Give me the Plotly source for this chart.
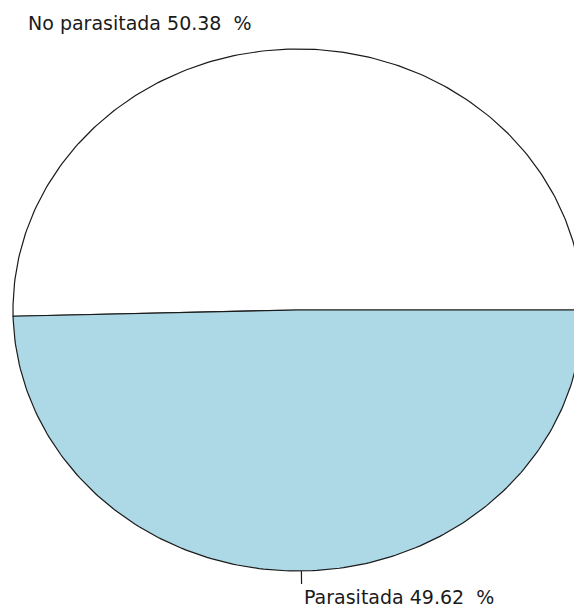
import numpy as np
import plotly.graph_objects as go

# datos del gráfico de torta
categorias = ["No parasitada", "Parasitada"]
porcentajes = [50.38, 49.62]
colores = ["white", "lightblue"]

# geometría (como pie() de R: antihorario desde las 3 en punto)
fig = go.Figure()
fracciones = np.array(porcentajes) / sum(porcentajes)
limites = np.concatenate([[0], np.cumsum(fracciones)]) * 2 * np.pi

for i, cat in enumerate(categorias):
    t = np.linspace(limites[i], limites[i + 1], 200)
    xs = np.concatenate([[0], np.cos(t), [0]])
    ys = np.concatenate([[0], np.sin(t), [0]])
    fig.add_trace(go.Scatter(
        x=xs, y=ys, mode="lines", fill="toself",
        fillcolor=colores[i],
        line=dict(color="#1a1a1a", width=1.2),
        hoverinfo="skip", showlegend=False,
    ))

# etiquetas (en la imagen solo se ve la marca corta de abajo)
for i, cat in enumerate(categorias):
    medio = (limites[i] + limites[i + 1]) / 2
    cx, cy = np.cos(medio), np.sin(medio)
    if cy < 0:
        fig.add_trace(go.Scatter(
            x=[cx, 1.05 * cx], y=[cy, 1.05 * cy], mode="lines",
            line=dict(color="#1a1a1a", width=1.2),
            hoverinfo="skip", showlegend=False,
        ))
    fig.add_annotation(
        x=1.1 * cx, y=1.1 * cy,
        text=f"{cat} {porcentajes[i]:.2f}\u00a0\u00a0%",
        showarrow=False,
        xanchor="right" if cx < 0 else "left",
        xshift=-40 if cx < 0 else 0,
        yanchor="middle",
        font=dict(family="DejaVu Sans, sans-serif", size=19, color="#1a1a1a"),
    )

# rangos de ejes para ubicar la elipse como en la imagen
# (la página tiene 8 px de margen en el body)
rx, ry = 285, 261
cxp, cyp = 290, 302
W, H = 574, 603
fig.update_layout(
    width=W, height=H,
    margin=dict(l=0, r=0, t=0, b=0),
    paper_bgcolor="white", plot_bgcolor="white",
    xaxis=dict(range=[-cxp / rx, (W - cxp) / rx], visible=False, fixedrange=True),
    yaxis=dict(range=[-(H - cyp) / ry, cyp / ry], visible=False, fixedrange=True),
)

fig.write_html("out.html")
